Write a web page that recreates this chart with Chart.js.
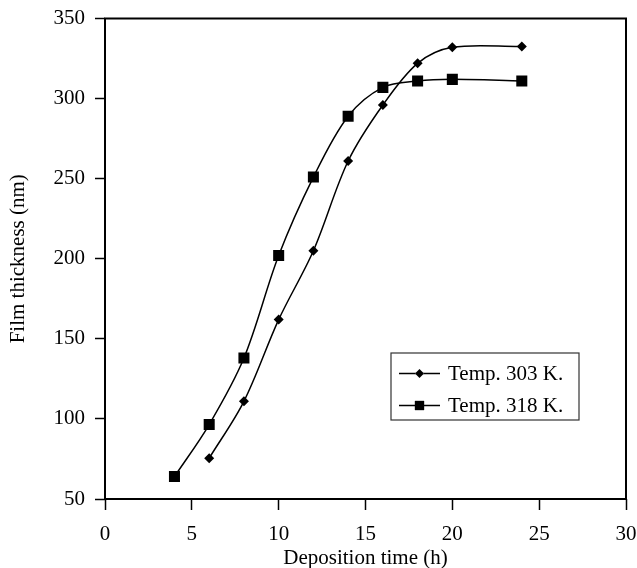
<!DOCTYPE html>
<html>
<head>
<meta charset="utf-8">
<script src="https://cdn.jsdelivr.net/npm/chart.js@4"></script>
<style>
  body { margin: 0; background: #fff; }
  #wrap { width: 637px; height: 568px; }
</style>
</head>
<body>
<div id="wrap"><canvas id="myChart"></canvas></div>
<script>
// deposition time (h) and film thickness (nm)
const time303 = [6, 8, 10, 12, 14, 16, 18, 20, 24];
const thick303 = [75.5, 111, 162, 205, 261, 296, 322, 332, 332.5];
const time318 = [4, 6, 8, 10, 12, 14, 16, 18, 20, 24];
const thick318 = [64, 96.5, 138, 202, 251, 289, 307, 311, 312, 311];
const seriesLabels = ['Temp. 303 K.', 'Temp. 318 K.'];

const toPoints = (xs, ys) => xs.map((x, i) => ({ x: x, y: ys[i] }));

Chart.defaults.font.family = "'Liberation Serif', 'Times New Roman', serif";
Chart.defaults.font.size = 21;
Chart.defaults.color = '#000';

// box round the plot area
const frame = {
  id: 'frame',
  afterDatasetsDraw(chart) {
    const a = chart.chartArea, c = chart.ctx;
    c.save();
    c.strokeStyle = '#000';
    c.lineWidth = 2;
    c.strokeRect(a.left, a.top, a.right - a.left, a.bottom - a.top);
    c.restore();
  }
};

// legend inside the plot
const boxLegend = {
  id: 'boxLegend',
  afterDraw(chart) {
    const c = chart.ctx;
    const x0 = 391, y0 = 353, w = 188, h = 67;
    c.save();
    c.fillStyle = '#fff';
    c.fillRect(x0, y0, w, h);
    c.strokeStyle = '#333';
    c.lineWidth = 1.2;
    c.strokeRect(x0, y0, w, h);
    const rows = [373.5, 405.5];
    chart.data.datasets.forEach((ds, i) => {
      const y = rows[i];
      c.strokeStyle = '#000';
      c.lineWidth = 1.5;
      c.beginPath();
      c.moveTo(399, y);
      c.lineTo(440, y);
      c.stroke();
      Chart.helpers.drawPoint(c, { pointStyle: ds.pointStyle, radius: ds.pointStyle === 'rect' ? 6.5 : 4.5, borderWidth: 0 }, 419.5, y);
      c.fillStyle = '#000';
      c.fill();
      c.font = "21px 'Liberation Serif', 'Times New Roman', serif";
      c.textBaseline = 'middle';
      c.textAlign = 'left';
      c.fillText(ds.label, 448, y + 1);
    });
    c.restore();
  }
};

const ctx = document.getElementById('myChart');

new Chart(ctx, {
  type: 'scatter',
  data: {
    datasets: [{
      label: seriesLabels[0],
      data: toPoints(time303, thick303),
      showLine: true,
      tension: 0.33,
      borderColor: '#000',
      borderWidth: 1.5,
      backgroundColor: '#000',
      pointStyle: 'rectRot',
      pointRadius: 5,
      pointBorderWidth: 0
    }, {
      label: seriesLabels[1],
      data: toPoints(time318, thick318),
      showLine: true,
      tension: 0.33,
      borderColor: '#000',
      borderWidth: 1.5,
      backgroundColor: '#000',
      pointStyle: 'rect',
      pointRadius: 7.8,
      pointBorderWidth: 0
    }]
  },
  options: {
    responsive: true,
    maintainAspectRatio: false,
    animation: false,
    devicePixelRatio: 1,
    layout: { padding: { top: 18.5, right: 11, left: 0, bottom: 0 } },
    plugins: {
      legend: { display: false },
      tooltip: { enabled: false }
    },
    scales: {
      x: {
        type: 'linear',
        min: 0,
        max: 30,
        ticks: { stepSize: 5, padding: 12, maxRotation: 0 },
        grid: { drawOnChartArea: false, drawTicks: true, tickLength: 11, color: '#000', tickWidth: 1.5 },
        border: { display: false },
        title: { display: true, text: 'Deposition time (h)', padding: { top: 0, bottom: -3 } },
        afterFit(scale) {
          scale.height = 69;
          scale.paddingLeft = 0;
          scale.paddingRight = 0;
        }
      },
      y: {
        min: 50,
        max: 350,
        ticks: { stepSize: 50, padding: 10 },
        grid: { drawOnChartArea: false, drawTicks: true, tickLength: 10, color: '#000', tickWidth: 1.5 },
        border: { display: false },
        title: { display: true, text: 'Film thickness (nm)', padding: { top: 6, bottom: 0 } },
        afterFit(scale) {
          scale.width = 105;
          scale.paddingTop = 0;
          scale.paddingBottom = 0;
        }
      }
    }
  },
  plugins: [frame, boxLegend]
});
</script>
</body>
</html>
